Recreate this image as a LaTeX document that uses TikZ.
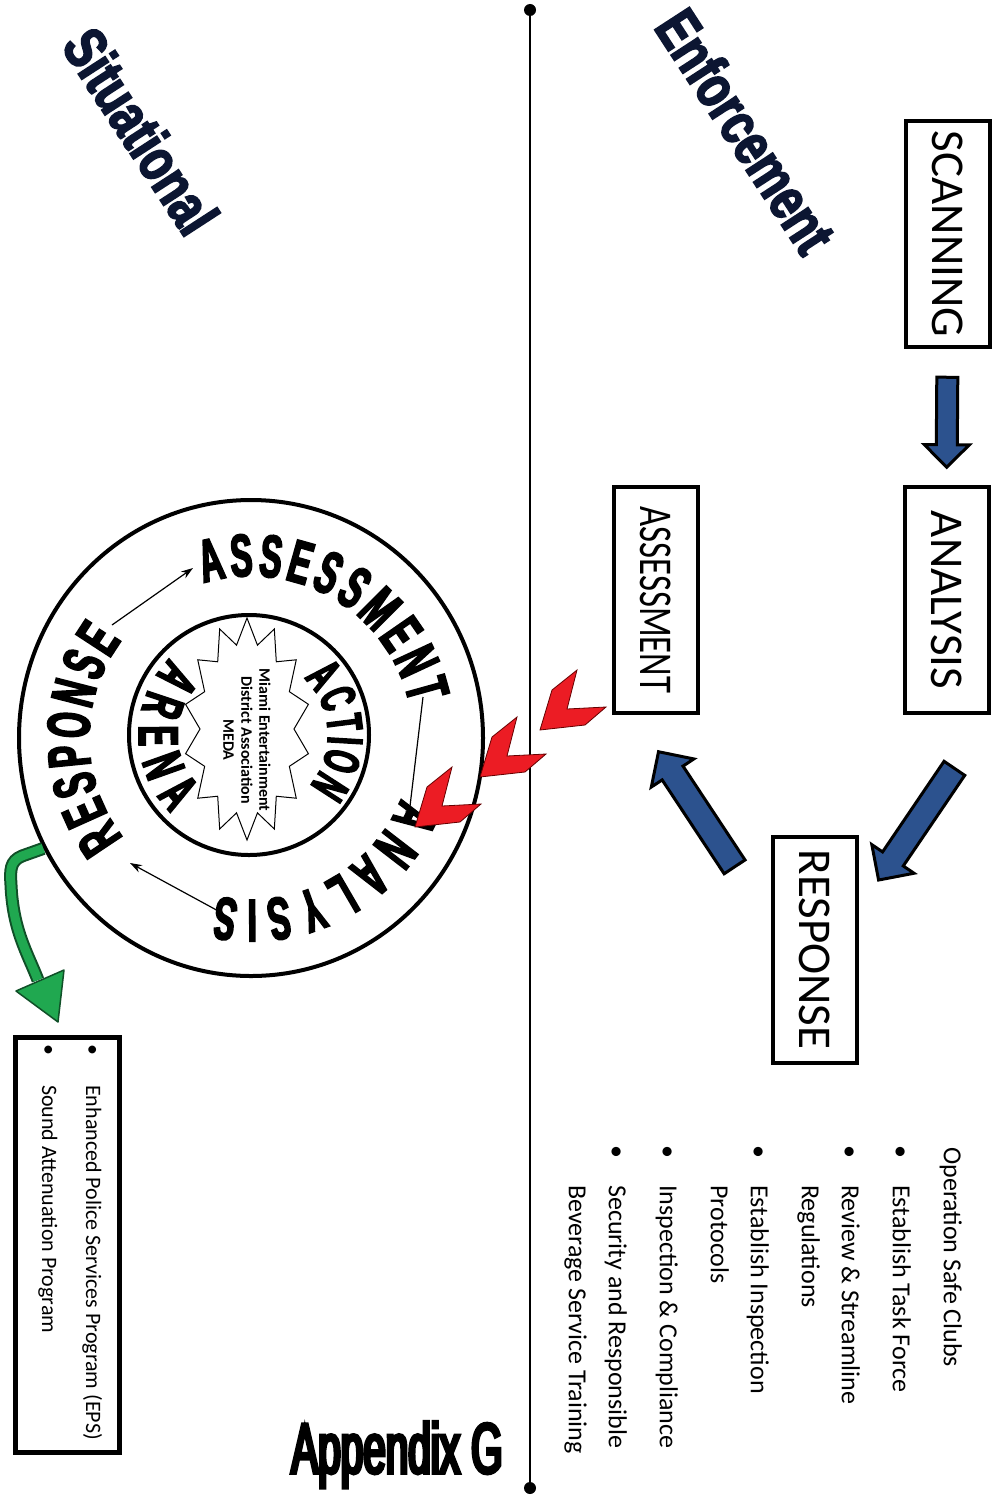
\documentclass[tikz,border=0pt]{standalone}
\usepackage{fontspec}
\usepackage{graphicx}
\setmainfont{Carlito}
\newfontfamily\titleface{Liberation Sans}[FakeStretch=0.75,FakeBold=3]
\newfontfamily\ringface{Liberation Sans}[FakeStretch=0.55,FakeBold=3]
\newfontfamily\impactfont{Liberation Sans}[FakeStretch=0.57,FakeBold=5]
\usetikzlibrary{arrows.meta,shapes.geometric,shapes.arrows,decorations.text,positioning,calc}

\definecolor{navytext}{RGB}{12,22,50}
\definecolor{arrowblue}{RGB}{44,82,142}
\definecolor{chevred}{RGB}{236,28,36}
\definecolor{leafgreen}{RGB}{32,168,80}
\definecolor{darkleaf}{RGB}{16,80,40}

\newcommand\ringfont{\ringface\bfseries\fontsize{60}{60}\selectfont}
\newcommand\hubfont{\ringface\bfseries\fontsize{50}{50}\selectfont}
\newcommand\arenafont{\ringface\bfseries\fontsize{56}{56}\selectfont}
\newcommand\blt{\makebox[10pt]{\textbullet}}

\tikzset{
    stagebox/.style={
        rectangle,
        draw=black,
        line width=4pt,
        rotate=-90,
        minimum width=226pt,
        minimum height=84pt,
        inner sep=0pt,
        font=\fontsize{47}{50}\selectfont,
    },
    listbox/.style={
        rectangle,
        draw=black,
        line width=5pt,
        rotate=-90,
        minimum width=415pt,
        minimum height=104pt,
    },
    blockarrow/.style={
        single arrow,
        draw=black,
        line width=3pt,
        fill=arrowblue,
        inner xsep=0pt,
        sloped,
        allow upside down,
        midway,
    },
    title/.style={
        font=\titleface\bfseries\fontsize{60}{60}\selectfont,
        text=navytext,
        inner sep=0pt,
    },
    dot/.style={
        circle,
        fill=black,
        inner sep=0pt,
        minimum size=12pt,
    },
    cycleline/.style={line width=1.2pt},
    ringtext/.style={
        decorate,
        decoration={text along path, text align={fit to path}, text={|\ringfont|#1}},
    },
    hubtext/.style={
        decorate,
        decoration={text along path, text align={fit to path}, text={|\hubfont|#1}},
    },
    chevron/.pic={
        \filldraw[fill=chevred, draw=red!40!black, line width=0.8pt]
            (0,0) -- (12,-40) -- (37,-60) -- (27,-21) -- (66,-23) -- (45,-5) -- cycle;
    },
}

\begin{document}
\begin{tikzpicture}[x=1pt, y=-1pt, >={Stealth[length=12pt,width=8pt]}]
    \fill[white] (0,0) rectangle (996,1501);
    \useasboundingbox (0,0) rectangle (996,1501);

    % divider
    \node[dot] (topdot) at (530,10) {};
    \node[dot] (botdot) at (530,1488) {};
    \draw[line width=1.5pt] (topdot) -- (botdot);

    % headings
    \node[title, rotate=-57] (situ) at (141,131) {Situational};
    \node[title, rotate=-57] (enf) at (746,131) {Enforcement};
    \node[font=\impactfont\fontsize{71}{71}\selectfont, inner sep=0pt, anchor=base] (appx) at (397,1473) {Appendix G};

    % SARA boxes
    \node[stagebox] (scan) at (947.5,234) {SCANNING};
    \node[stagebox] (anal) at (946.5,600) {ANALYSIS};
    \node[stagebox] (resp) at (814.5,949.5) {RESPONSE};
    \node[stagebox] (assess) at (655.5,600) {\scalebox{0.74}[1]{ASSESSMENT}};

    \coordinate (a2s) at (958,763);
    \coordinate (a2e) at (882,875);
    \coordinate (a3s) at (738,872);
    \coordinate (a3e) at (662,757);
    \path (scan.east) -- node[blockarrow, inner ysep=9pt, single arrow head extend=12pt, minimum height=90pt] {} (anal.west);
    \path (a2s) -- node[blockarrow, inner ysep=11pt, single arrow head extend=13pt, minimum height=135pt] {} (a2e);
    \path (a3s) -- node[blockarrow, inner ysep=11pt, single arrow head extend=13pt, minimum height=138pt] {} (a3e);

    % enforcement list
    \node[rotate=-90, anchor=north west, inner sep=0pt, font=\fontsize{26}{40}\selectfont] (enfList) at (972,1147) {%
        \begin{tabular}{@{}l@{\hspace{28pt}}l@{}}
            \multicolumn{2}{@{}l@{}}{Operation Safe Clubs}\\[11pt]
            \blt & Establish Task Force\\[11pt]
            \blt & Review \& Streamline\\
                 & Regulations\\[11pt]
            \blt & Establish Inspection\\
                 & Protocols\\[11pt]
            \blt & Inspection \& Compliance\\[11pt]
            \blt & Security and Responsible\\
                 & Beverage Service Training
        \end{tabular}};

    % situational cycle
    \coordinate (ringC) at (251,738);
    \coordinate (hubC) at (249,735);
    \node[ellipse, draw, line width=4pt, minimum width=464pt, minimum height=476pt, inner sep=0pt] (ring) at (ringC) {};
    \node[circle, draw, line width=4pt, minimum size=240pt, inner sep=0pt] (hub) at (hubC) {};
    \draw[line width=1pt, shift={(247,729)}] plot[samples at={0,...,27}, variable=\k]
        ({(isodd(\k) ? 47 : 63)*cos(\k*360/28+90)}, {(isodd(\k) ? 86 : 111)*sin(\k*360/28+90)}) -- cycle;
    \node[rotate=-90, align=center, inner sep=0pt, font=\bfseries\fontsize{16}{18}\selectfont] (meda) at (247,740)
        {Miami Entertainment\\District Association\\MEDA};

    \path[ringtext=ASSESSMENT] ($(ringC)+(-107:162)$) arc[start angle=-107, end angle=-12, radius=162];
    \path[ringtext=ANALYSIS] ($(ringC)+(22:162)$) arc[start angle=22, end angle=102, radius=162];
    \path[ringtext=RESPONSE] ($(ringC)+(142:162)$) arc[start angle=142, end angle=217, radius=162];
    \path[hubtext=ACTION] ($(hubC)+(-46:79)$) arc[start angle=-46, end angle=40, radius=79];
    \path[decorate, decoration={text along path, text align={fit to path}, text={|\arenafont|ARENA}}]
        ($(hubC)+(-136:110)$) arc[start angle=-136, end angle=-225, radius=110];

    \coordinate (respOut) at (112,625);
    \coordinate (assessIn) at (193,568);
    \coordinate (assessOut) at (423,697);
    \coordinate (analIn) at (408,823);
    \coordinate (analOut) at (222,913);
    \coordinate (respIn) at (130,863);
    \draw[cycleline, ->] (respOut) -- (assessIn);
    \draw[cycleline, ->] (assessOut) -- (analIn);
    \draw[cycleline, ->] (analOut) -- (respIn);

    % red chevrons into the cycle
    \pic at (540,730) {chevron};
    \pic at (480,777) {chevron};
    \pic at (415,827) {chevron};

    % programs box
    \node[listbox] (progBox) at (67,1244.5) {};
    \node[rotate=-90, anchor=north west, inner sep=0pt, font=\fontsize{22}{44}\selectfont] (progList) at (117,1045) {%
        \begin{tabular}{@{}l@{\hspace{30pt}}l@{}}
            \blt & Enhanced Police Services Program (EPS)\\
            \blt & Sound Attenuation Program
        \end{tabular}};

    % green arrow to the programs
    \coordinate (greenTip) at (58,1022);
    \draw[line width=13pt, darkleaf] (ring.208) -- (22,856) .. controls (10,861) and (10,870) .. (11,885)
        .. controls (13,930) and (27,952) .. (38,980);
    \draw[line width=9pt, leafgreen] (ring.208) -- (22,856) .. controls (10,861) and (10,870) .. (11,885)
        .. controls (13,930) and (27,952) .. (38,980);
    \filldraw[fill=leafgreen, draw=darkleaf, line width=1.5pt, line join=round] (16,991) -- (64,970) -- (greenTip) -- cycle;
\end{tikzpicture}
\end{document}
